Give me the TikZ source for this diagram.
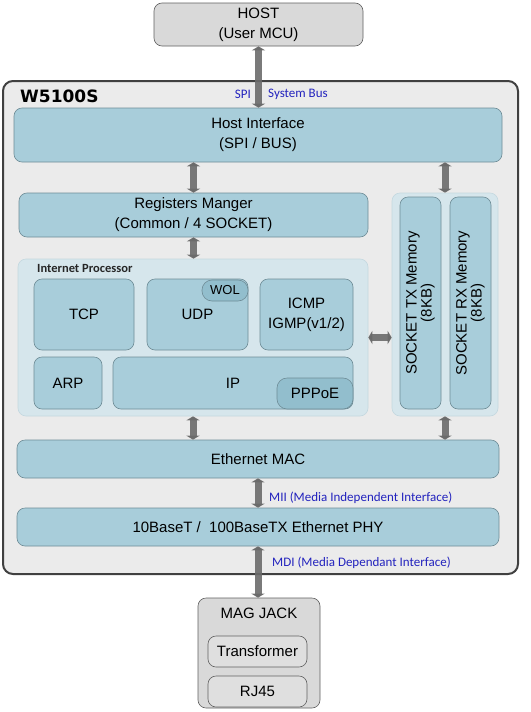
\documentclass[tikz,border=0pt]{standalone}
\usepackage{fontspec}
\setmainfont{Liberation Sans}
\newfontfamily\chipfont{DejaVu Sans}
\newfontfamily\busfont{Carlito}
\usetikzlibrary{arrows.meta}

\definecolor{blockfill}{RGB}{168,205,218}
\definecolor{blockline}{RGB}{110,140,150}
\definecolor{groupfill}{RGB}{214,230,236}
\definecolor{groupline}{RGB}{196,216,223}
\definecolor{pillfill}{RGB}{146,190,205}
\definecolor{chipfill}{RGB}{235,235,235}
\definecolor{busblue}{RGB}{35,35,190}

\begin{document}
\begin{tikzpicture}[x=1pt, y=-1pt,
  every node/.style={inner sep=0pt, align=center, font=\fontsize{15}{20}\selectfont},
  block/.style={draw=blockline, fill=blockfill, rounded corners=8pt, line width=0.6pt},
  group/.style={draw=groupline, fill=groupfill, rounded corners=8pt, line width=0.6pt},
  pill/.style={draw=blockline, fill=pillfill, rounded corners=10pt, line width=0.6pt},
  greybox/.style={draw=gray!75!black, fill=gray!30, rounded corners=8pt, line width=0.6pt},
  buslabel/.style={text=busblue, font=\busfont\fontsize{13}{14}\selectfont, anchor=west},
  biarrow/.style={line width=7pt, draw=black!58, draw opacity=0.9,
    {Triangle[width=13pt,length=4pt]}-{Triangle[width=13pt,length=4pt]}}
]
\useasboundingbox (0,0) rectangle (530,712);

% host side
\node[greybox, minimum width=209pt, minimum height=43pt] (host) at (258.5,24.5) {HOST\\(User MCU)};

% the chip
\node[draw=black!75, fill=chipfill, rounded corners=10pt, line width=2pt,
  minimum width=515pt, minimum height=493pt] (chip) at (260.5,327.5) {};
\node[anchor=west, font=\chipfont\bfseries\fontsize{17}{17}\selectfont] (chipname) at (20,96) {W5100S};
\node[buslabel, anchor=east] (spi) at (251,94) {SPI};
\node[buslabel] (sysbus) at (268,94) {System Bus};

\node[block, minimum width=488pt, minimum height=54pt] (hif) at (258,135) {Host Interface\\(SPI / BUS)};
\node[block, minimum width=349pt, minimum height=44pt] (reg) at (193.5,215) {Registers Manger\\(Common / 4 SOCKET)};

% internet processor
\node[group, minimum width=350pt, minimum height=157pt] (ipg) at (193,337.5) {};
\node[anchor=west, font=\busfont\bfseries\fontsize{12.5}{13}\selectfont, text=black!85] (ipglabel) at (37,268) {Internet Processor};
\node[block, minimum width=100pt, minimum height=71pt] (tcp) at (84,314.5) {TCP};
\node[block, minimum width=101pt, minimum height=71pt] (udp) at (197.5,314.5) {UDP};
\node[pill, minimum width=46pt, minimum height=21pt, font=\fontsize{13}{13}\selectfont] (wol) at (225,290.5) {WOL};
\node[block, minimum width=93pt, minimum height=71pt] (icmp) at (306.5,314.5) {ICMP\\IGMP(v1/2)};
\node[block, minimum width=68pt, minimum height=52pt] (arp) at (68,383) {ARP};
\node[block, minimum width=240pt, minimum height=52pt] (ip) at (233,383) {IP};
\node[pill, minimum width=76pt, minimum height=31pt] (pppoe) at (315,393.5) {PPPoE};

% socket memory
\node[group, minimum width=106pt, minimum height=223pt] (memg) at (445,304.5) {};
\node[block, rotate=90, minimum width=212pt, minimum height=41pt,
  font=\fontsize{15}{15}\selectfont] (txmem) at (420.5,303) {SOCKET TX Memory\\(8KB)};
\node[block, rotate=90, minimum width=212pt, minimum height=41pt,
  font=\fontsize{15}{15}\selectfont] (rxmem) at (470.5,303) {SOCKET RX Memory\\(8KB)};

\node[block, minimum width=482pt, minimum height=38pt] (mac) at (258,459) {Ethernet MAC};
\node[block, minimum width=482pt, minimum height=38pt] (phy) at (258,527) {10BaseT /\ \ 100BaseTX Ethernet PHY};

% magnetics
\node[greybox, minimum width=122pt, minimum height=110pt] (mag) at (259,653) {};
\node (magname) at (259,613) {MAG JACK};
\node[greybox, fill=gray!25, minimum width=99pt, minimum height=31pt] (xfmr) at (257.5,651.5) {Transformer};
\node[greybox, fill=gray!25, minimum width=99pt, minimum height=31pt] (rj45) at (257.5,691.5) {RJ45};

% buses
\draw[biarrow] (host.south) -- (host.south |- hif.north);
\draw[biarrow] (reg.north |- hif.south) -- (reg.north);
\draw[biarrow] (memg.north |- hif.south) -- (memg.north);
\draw[biarrow] (reg.south) -- (reg.south |- ipg.north);
\draw[biarrow] (ipg.east) -- (ipg.east -| memg.west);
\draw[biarrow] (ipg.south) -- (ipg.south |- mac.north);
\draw[biarrow] (memg.south) -- (memg.south |- mac.north);
\draw[biarrow] (mac.south) -- (phy.north);
\draw[biarrow] (phy.south) -- (phy.south |- mag.north);

\node[buslabel] (mii) at (269,498) {MII (Media Independent Interface)};
\node[buslabel] (mdi) at (272,563) {MDI (Media Dependant Interface)};

\end{tikzpicture}
\end{document}
